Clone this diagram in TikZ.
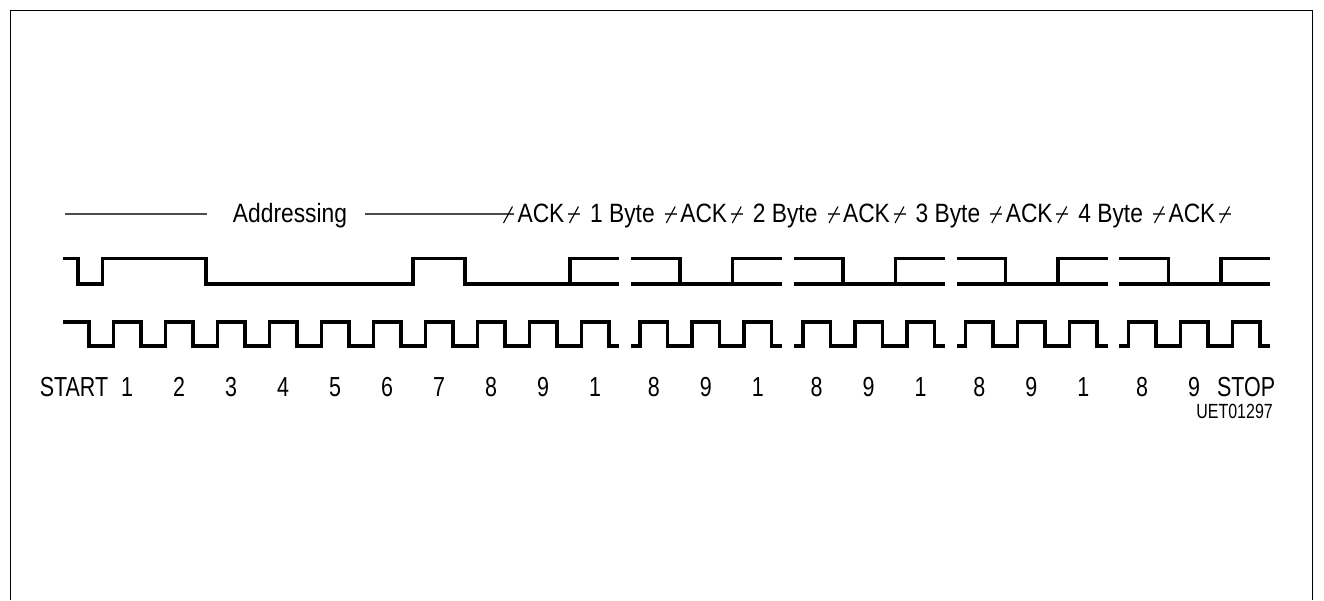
\documentclass[tikz,border=0pt]{standalone}
\usepackage{fontspec}
\setmainfont{Liberation Sans}[FakeStretch=0.8]
\newfontfamily\hdrfont{Liberation Sans}[FakeStretch=0.86]
\newfontfamily\lblfont{Liberation Sans}[FakeStretch=0.78]
\begin{document}
\begin{tikzpicture}[x=1pt,y=-1pt,
  wave/.style={line width=3.6pt, line join=miter, line cap=butt},
  dimline/.style={line width=1.2pt, black!70},
  ticksl/.style={line width=1.1pt, black},
  lbl/.style={font=\lblfont\fontsize{27.5}{27.5}\selectfont, inner sep=0pt, anchor=base},
  hdr/.style={font=\hdrfont\fontsize{26.5}{26.5}\selectfont, inner sep=0pt, anchor=base},
  code/.style={font=\lblfont\fontsize{20.5}{20.5}\selectfont, inner sep=0pt, anchor=base east},
]
\useasboundingbox (0,0) rectangle (1324,600);
% frame
\draw[line width=1.4pt] (10.5,600) -- (10.5,10.5) -- (1312.5,10.5) -- (1312.5,600);

% ---------- header (dimension line) ----------
\coordinate (h0) at (65,214);
\coordinate (h1) at (206.7,214);
\node[hdr] (addr) at (290,222.5) {Addressing};
\coordinate (h2) at (365,214);
\coordinate (h3) at (508,214);
\draw[dimline] (h0) -- (h1);
\draw[dimline] (h2) -- (h3);
\foreach \k in {1,...,5}{
  \pgfmathsetmacro\a{541+(\k-1)*162.75}
  \node[hdr] (ack\k) at (\a,222.5) {ACK};
  \foreach \s in {-33,33}{
    \draw[dimline] (\a+\s-6,214) -- (\a+\s+6,214);
    \draw[ticksl] (\a+\s-4.5,223) -- (\a+\s+4.5,206.5);
  }
}
\foreach \k/\t in {1/1 Byte,2/2 Byte,3/3 Byte,4/4 Byte}{
  \pgfmathsetmacro\b{541+(\k-1)*162.75+81.4}
  \node[hdr] (byte\k) at (\b,222.5) {\t};
}

% ---------- SDA ----------
\draw[wave] (63,258.3) -- (77.7,258.3) -- (77.7,284.2) -- (102.5,284.2) -- (102.5,258.3)
  -- (206,258.3) -- (206,284.2) -- (413,284.2) -- (413,258.3) -- (465,258.3)
  -- (465,284.2) -- (570,284.2) -- (570,258.3) -- (619.3,258.3);
\draw[wave] (568,284.2) -- (619.3,284.2);
\foreach \p in {640.05,802.8,965.55,1128.3}{
  \draw[wave] (\p-9,284.2) -- (\p+142,284.2);
  \draw[wave] (\p-9,258.3) -- (\p+40,258.3) -- (\p+40,284.2);
  \draw[wave] (\p+92.5,284.2) -- (\p+92.5,258.3) -- (\p+142,258.3);
}

% ---------- SCL ----------
\draw[wave] (63,322) -- (88.8,322) -- (88.8,346) -- (113.3,346)
  foreach \j in {1,...,9}{ -- ++(0,-24) -- ++(27.5,0) -- ++(0,24) -- ++(24.5,0) }
  -- ++(0,-24) -- ++(27.5,0) -- ++(0,24) -- ++(10.5,0);
\foreach \p in {640.05,802.8,965.55,1128.3}{
  \draw[wave] (\p-9,346) -- (\p,346)
    -- ++(0,-24) -- ++(27.5,0) -- ++(0,24) -- ++(24.5,0)
    -- ++(0,-24) -- ++(27.5,0) -- ++(0,24) -- ++(24.5,0)
    -- ++(0,-24) -- ++(27.5,0) -- ++(0,24) -- ++(10.5,0);
}

% ---------- bottom labels ----------
\node[lbl] (lstart) at (74,396) {START};
\foreach \t [count=\j from 0] in {1,2,3,4,5,6,7,8,9,1}{
  \node[lbl] (la\j) at (127.05+\j*52,396) {\t};
}
\foreach \p [count=\k] in {640.05,802.8,965.55}{
  \node[lbl] (lb\k) at (\p+13.75,396) {8};
  \node[lbl] (lc\k) at (\p+65.75,396) {9};
  \node[lbl] (ld\k) at (\p+117.75,396) {1};
}
\node[lbl] (lb4) at (1128.3+13.75,396) {8};
\node[lbl] (lc4) at (1128.3+65.75,396) {9};
\node[lbl] (lstop) at (1128.3+117.75,396) {STOP};
\node[code] (uet) at (1273,418) {UET01297};
\end{tikzpicture}
\end{document}
